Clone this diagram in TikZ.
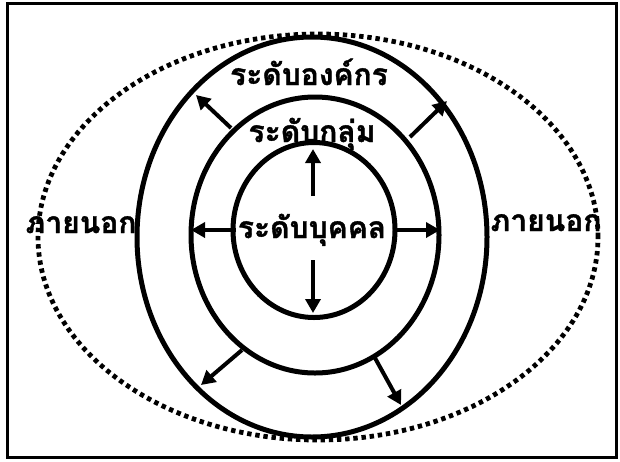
\documentclass[tikz,border=0pt]{standalone}
\usepackage{fontspec}
\newfontfamily\thaifont[Script=Thai,BoldFeatures={FakeBold=1.2}]{Loma}
\usetikzlibrary{arrows.meta,shapes.geometric}
\begin{document}
\begin{tikzpicture}[x=1pt,y=-1pt,
  ring/.style={draw=black,line width=5pt,ellipse,inner sep=0pt},
  outerring/.style={draw=black,line width=4.8pt,ellipse,inner sep=0pt,dash pattern=on 4.4pt off 3.8pt},
  lbl/.style={font=\thaifont\bfseries\fontsize{30}{32}\selectfont,inner sep=0pt,anchor=base},
  arr/.style={line width=4pt,-{Triangle[length=14pt,width=15pt]}}]
\useasboundingbox (0,0) rectangle (620,461);
\draw[line width=3.4pt] (7.5,3.5) rectangle (616.5,457.5);
\node[outerring,minimum width=560pt,minimum height=406pt] (ext) at (318,237) {};
\node[ring,minimum width=350pt,minimum height=400pt] (org) at (312,237) {};
\node[ring,minimum width=248pt,minimum height=276pt] (grp) at (315,235) {};
\node[ring,minimum width=162pt,minimum height=175pt] (ind) at (314,230) {};
\node[lbl] (torg) at (309,85) {ระดับองค์กร};
\node[lbl] (tgrp) at (312,142) {ระดับกลุ่ม};
\node[lbl] (tind) at (312,238) {ระดับบุคคล};
\node[lbl] (tl) at (81,233) {ภายนอก};
\node[lbl] (tr) at (546,231) {ภายนอก};
\coordinate (u0) at (313,196); \coordinate (u1) at (313,149);
\coordinate (d0) at (313,260); \coordinate (d1) at (313,313);
\coordinate (l0) at (236,230); \coordinate (l1) at (191,230);
\coordinate (r0) at (394,230); \coordinate (r1) at (440,230);
\coordinate (a0) at (231,128); \coordinate (a1) at (196,95);
\coordinate (b0) at (410,137); \coordinate (b1) at (447,101);
\coordinate (c0) at (242,350); \coordinate (c1) at (201,385);
\coordinate (e0) at (375,358); \coordinate (e1) at (401,405);
\foreach \p in {u,d,l,r,a,b,c,e} {\draw[arr] (\p0) -- (\p1);}
\end{tikzpicture}
\end{document}
